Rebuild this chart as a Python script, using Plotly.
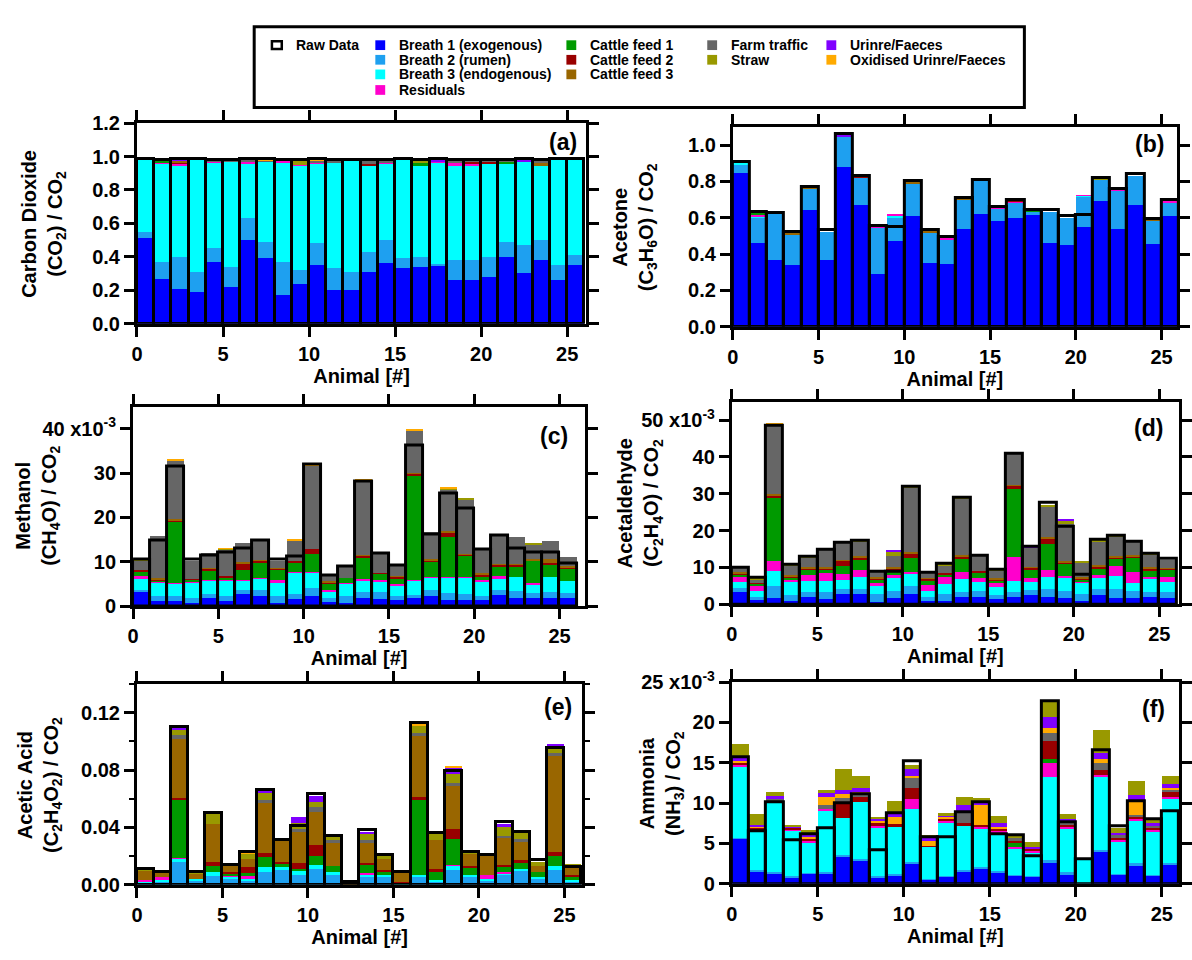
import plotly.graph_objects as go

W, H = 1192, 960

animals = list(range(1, 27))

names = ["Breath 1 (exogenous)", "Breath 2 (rumen)", "Breath 3 (endogenous)", "Residuals",
         "Cattle feed 1", "Cattle feed 2", "Cattle feed 3", "Farm traffic", "Straw",
         "Urinre/Faeces", "Oxidised Urinre/Faeces"]
colors = ["#0000ff", "#1ea0f0", "#00ffff", "#ff00cc", "#009a00", "#990000", "#996600",
          "#666666", "#999900", "#8000ff", "#ffaa00"]

# ---------------- (a) Carbon dioxide ----------------
A_B1 = [0.51, 0.265, 0.21, 0.19, 0.37, 0.22, 0.50, 0.39, 0.17, 0.24, 0.35, 0.20, 0.20, 0.31, 0.36, 0.33, 0.34, 0.35, 0.26, 0.26, 0.28, 0.40, 0.30, 0.38, 0.26, 0.35]
A_B2 = [0.04, 0.105, 0.19, 0.12, 0.08, 0.12, 0.13, 0.10, 0.20, 0.08, 0.13, 0.13, 0.11, 0.12, 0.14, 0.06, 0.06, 0.005, 0.12, 0.12, 0.12, 0.09, 0.17, 0.12, 0.09, 0.06]
A_B3 = [0.43, 0.585, 0.545, 0.67, 0.515, 0.63, 0.33, 0.48, 0.59, 0.625, 0.475, 0.635, 0.67, 0.515, 0.455, 0.59, 0.545, 0.61, 0.565, 0.565, 0.56, 0.47, 0.50, 0.445, 0.63, 0.57]
A_RES = [0, 0.01, 0.01, 0, 0.005, 0, 0.01, 0, 0.015, 0.005, 0.01, 0, 0, 0, 0.01, 0, 0, 0.005, 0.015, 0.01, 0, 0, 0, 0, 0, 0]
A_CF1 = [0, 0.01, 0, 0, 0, 0, 0, 0, 0, 0, 0, 0, 0, 0, 0, 0, 0.02, 0, 0, 0, 0, 0.01, 0, 0, 0, 0]
A_CF2 = [0, 0, 0.01, 0, 0, 0, 0, 0, 0, 0, 0, 0, 0, 0.01, 0, 0, 0, 0, 0, 0.01, 0.01, 0, 0, 0, 0, 0]
A_CF3 = [0, 0, 0.01, 0, 0, 0, 0, 0, 0, 0, 0, 0, 0, 0, 0, 0, 0, 0, 0, 0, 0, 0, 0, 0.02, 0, 0]
A_FARM = [0, 0, 0, 0, 0.01, 0.005, 0.01, 0.005, 0.005, 0, 0.01, 0.01, 0, 0.015, 0.01, 0, 0, 0, 0.015, 0.015, 0.01, 0.01, 0, 0.01, 0, 0]
A_STRAW = [0, 0, 0, 0, 0, 0, 0, 0, 0, 0.02, 0, 0, 0, 0, 0, 0, 0.01, 0, 0, 0, 0, 0, 0, 0, 0, 0]
A_URINE = [0, 0, 0.005, 0, 0, 0, 0.005, 0, 0, 0, 0, 0, 0, 0, 0, 0, 0, 0.005, 0, 0, 0, 0, 0.01, 0, 0, 0]
A_OXID = [0.005, 0, 0, 0.005, 0, 0, 0, 0.005, 0, 0, 0.005, 0, 0, 0, 0, 0.005, 0, 0, 0, 0, 0, 0, 0, 0, 0, 0]
A_RAW = [0.985, 0.98, 0.985, 0.985, 0.98, 0.98, 0.985, 0.985, 0.98, 0.98, 0.985, 0.98, 0.98, 0.98, 0.98, 0.985, 0.98, 0.985, 0.98, 0.98, 0.98, 0.98, 0.985, 0.98, 0.985, 0.985]

# ---------------- (b) Acetone ----------------
B_B1 = [0.848, 0.46, 0.37, 0.34, 0.645, 0.37, 0.88, 0.67, 0.29, 0.47, 0.61, 0.35, 0.345, 0.54, 0.62, 0.58, 0.60, 0.615, 0.46, 0.45, 0.55, 0.695, 0.54, 0.67, 0.455, 0.61]
B_B2 = [0.041, 0.14, 0.25, 0.17, 0.115, 0.15, 0.17, 0.15, 0.255, 0.13, 0.18, 0.17, 0.135, 0.16, 0.18, 0.07, 0.085, 0.02, 0.17, 0.15, 0.165, 0.115, 0.21, 0.16, 0.13, 0.075]
B_B3 = [0.014, 0.005, 0, 0, 0, 0, 0, 0, 0, 0.01, 0, 0, 0, 0, 0, 0, 0, 0, 0, 0, 0.005, 0, 0, 0, 0, 0]
B_RES = [0, 0.015, 0, 0, 0, 0, 0, 0, 0.005, 0.01, 0, 0, 0.005, 0, 0, 0.01, 0.005, 0, 0, 0, 0.005, 0, 0.005, 0, 0, 0.01]
B_CF1 = [0.004, 0.005, 0, 0, 0, 0, 0, 0, 0, 0, 0, 0, 0, 0, 0, 0, 0, 0.005, 0, 0, 0, 0, 0, 0, 0, 0]
B_CF2 = [0, 0, 0, 0, 0, 0, 0, 0.003, 0, 0, 0, 0, 0, 0, 0, 0, 0.005, 0, 0, 0, 0, 0, 0.005, 0, 0, 0.005]
B_CF3 = [0, 0, 0, 0.005, 0.005, 0, 0, 0, 0, 0, 0.003, 0.005, 0, 0.004, 0, 0, 0, 0, 0, 0, 0, 0, 0, 0, 0.005, 0]
B_FARM = [0, 0, 0, 0, 0, 0, 0, 0, 0, 0, 0, 0, 0, 0, 0, 0, 0, 0, 0, 0, 0, 0, 0, 0, 0, 0]
B_STRAW = [0, 0, 0, 0, 0, 0, 0, 0, 0, 0, 0, 0, 0, 0, 0, 0, 0, 0, 0, 0, 0, 0.005, 0, 0, 0, 0]
B_URINE = [0, 0, 0, 0, 0, 0, 0.01, 0, 0, 0, 0, 0, 0, 0, 0, 0, 0, 0, 0, 0, 0, 0.005, 0, 0, 0, 0]
B_OXID = [0, 0, 0, 0, 0, 0, 0, 0, 0, 0, 0, 0, 0, 0, 0, 0, 0, 0, 0, 0, 0, 0.005, 0, 0, 0, 0]
B_RAW = [0.907, 0.63, 0.625, 0.52, 0.77, 0.535, 1.06, 0.83, 0.555, 0.55, 0.80, 0.53, 0.495, 0.71, 0.81, 0.66, 0.70, 0.64, 0.64, 0.61, 0.615, 0.82, 0.76, 0.84, 0.595, 0.70]

# ---------------- (c) Methanol (x1e-3) ----------------
C_B1 = [3.3, 1.3, 1.3, 0.8, 2.0, 1.2, 2.8, 2.5, 0.8, 1.8, 2.5, 1.0, 0.8, 2.0, 1.8, 1.5, 2.0, 2.5, 1.5, 1.5, 1.5, 2.7, 2.0, 2.0, 2.0, 2.0]
C_B2 = [0.5, 1.2, 1.2, 1.2, 0.8, 1.3, 1.0, 1.3, 1.5, 1.0, 1.7, 0.9, 1.5, 1.2, 1.5, 1.0, 0.7, 1.3, 1.5, 1.3, 1.0, 1.0, 1.5, 1.0, 1.4, 1.0]
C_B3 = [2.5, 3.0, 2.8, 3.5, 3.0, 3.3, 2.0, 2.5, 3.0, 4.8, 3.4, 1.6, 3.0, 2.8, 2.3, 2.3, 3.2, 2.7, 3.5, 3.7, 3.0, 2.7, 3.2, 2.1, 3.3, 2.8]
C_RES = [0.5, 0.2, 0.1, 0.1, 0.1, 0.1, 0.2, 0.2, 0.7, 0.2, 0.2, 0.2, 0.1, 0.3, 0.3, 0.4, 0.1, 0.1, 0.1, 0.1, 0.6, 0.4, 0.0, 0.2, 0.0, 0.0]
C_CF1 = [1.2, 0.2, 13.8, 0.5, 2.3, 0.7, 2.3, 3.5, 2.3, 2.2, 4.1, 1.6, 1.0, 4.8, 1.5, 1.0, 23.5, 3.6, 9.0, 4.9, 0.8, 2.3, 2.4, 5.1, 2.7, 2.8]
C_CF2 = [0.3, 0.3, 0.3, 0.2, 0.3, 0.3, 1.5, 0.3, 0.3, 0.3, 1.2, 0.2, 0.0, 0.4, 0.2, 0.5, 0.5, 0.3, 1.2, 0.3, 0.3, 0.4, 0.4, 0.1, 0.4, 0.2]
C_CF3 = [0.0, 0.2, 0.2, 0.0, 0.2, 0.0, 0.2, 0.3, 0.2, 0.0, 0.0, 0.3, 0.0, 0.2, 0.0, 0.3, 0.2, 0.2, 0.2, 0.1, 0.3, 0.2, 0.2, 0.3, 1.0, 0.3]
C_FARM = [2.2, 9.6, 13.3, 4.0, 3.5, 6.0, 4.3, 4.2, 1.5, 4.7, 18.7, 1.6, 2.9, 16.7, 4.4, 2.2, 9.6, 6.2, 9.4, 12.2, 5.3, 6.3, 6.1, 3.3, 3.9, 2.1]
C_STRAW = [0.2, 0, 0, 0, 0, 0.1, 0, 0, 0, 0, 0, 0, 0, 0, 0, 0, 0, 0, 0.3, 0.3, 0, 0, 0, 0.1, 0, 0]
C_URINE = [0, 0, 0, 0, 0, 0, 0, 0, 0, 0, 0, 0, 0, 0, 0, 0, 0, 0, 0, 0, 0, 0, 0, 0, 0, 0]
C_OXID = [0, 0, 0.3, 0, 0, 0.2, 0, 0.2, 0, 0.3, 0.2, 0, 0, 0.4, 0, 0, 0.2, 0, 0.2, 0, 0, 0, 0, 0, 0, 0]
C_RAW = [10.5, 14.8, 31.5, 10.5, 11.5, 12.0, 13.0, 14.8, 10.5, 11.2, 32.0, 7.0, 9.0, 28.0, 11.8, 9.2, 36.3, 16.2, 25.3, 22.0, 12.8, 16.0, 13.0, 12.0, 12.0, 9.7]

# ---------------- (d) Acetaldehyde (x1e-3) ----------------
D_B1 = [3.5, 1.5, 1.8, 1.0, 2.0, 1.5, 3.0, 2.8, 0.7, 1.8, 3.0, 1.0, 1.0, 2.0, 2.0, 1.5, 2.0, 2.5, 2.0, 1.8, 1.0, 2.5, 1.8, 1.8, 2.0, 1.8]
D_B2 = [1.0, 0.5, 3.2, 1.5, 1.5, 2.0, 1.3, 1.5, 2.3, 2.0, 2.0, 1.0, 1.8, 1.5, 1.8, 1.0, 1.5, 1.5, 2.3, 2.0, 2.0, 1.8, 2.5, 2.0, 1.5, 1.5]
D_B3 = [1.5, 1.8, 4.0, 3.5, 3.0, 3.0, 2.3, 3.2, 2.0, 3.5, 3.5, 1.8, 2.7, 3.5, 2.3, 2.3, 3.0, 2.0, 3.2, 3.5, 3.0, 2.8, 3.5, 2.0, 3.5, 2.8]
D_RES = [1.5, 1.5, 2.7, 0.8, 1.5, 2.0, 1.8, 2.0, 0.8, 0.8, 0.3, 1.5, 2.0, 1.8, 1.2, 1.0, 6.5, 1.2, 1.8, 0.5, 0.3, 1.0, 2.8, 3.0, 0.5, 1.3]
D_CF1 = [0.7, 0.3, 17.3, 0.6, 1.5, 1.0, 2.0, 2.8, 1.0, 0.7, 3.8, 1.3, 0.6, 3.8, 1.5, 0.8, 18.5, 2.3, 7.2, 3.3, 0.5, 1.8, 1.8, 4.0, 1.8, 2.0]
D_CF2 = [0.3, 0.3, 0.5, 0.3, 0.4, 0.3, 1.5, 0.5, 0.3, 1.0, 1.3, 0.4, 0.4, 0.5, 0.3, 0.3, 0.7, 0.5, 1.5, 0.3, 0.3, 0.5, 0.5, 0.3, 0.5, 0.3]
D_CF3 = [0.3, 0, 0.5, 0.3, 0.3, 0.3, 0.3, 0.3, 0.3, 0.5, 0.5, 0.3, 0, 0.3, 0, 0.3, 0.3, 0.3, 0.3, 0.3, 0.5, 0.3, 0.3, 0.3, 0.3, 0.3]
D_FARM = [1.2, 0.8, 18.9, 2.7, 2.6, 4.8, 4.6, 4.0, 1.5, 2.8, 17.4, 1.2, 2.0, 15.4, 4.0, 2.0, 8.5, 5.3, 8.2, 10.3, 3.7, 6.3, 5.2, 3.5, 3.5, 2.2]
D_STRAW = [0.2, 0.3, 0, 0.3, 0.2, 0.3, 0, 0.3, 0.3, 1.2, 0.3, 0, 0.3, 0.3, 0, 0.3, 0, 0, 0.5, 0.8, 0.5, 0.3, 0.3, 0, 0.3, 0]
D_URINE = [0, 0, 0, 0.2, 0, 0, 0, 0, 0, 0.5, 0, 0, 0, 0, 0, 0, 0, 0.5, 0, 0.3, 0, 0, 0, 0, 0, 0]
D_OXID = [0.2, 0, 0.2, 0, 0, 0, 0.2, 0, 0, 0, 0, 0, 0, 0, 0, 0, 0.3, 0, 0, 0, 0, 0, 0, 0, 0, 0]
D_RAW = [10.0, 7.2, 48.5, 10.8, 12.8, 14.8, 16.8, 17.2, 8.8, 8.8, 32.0, 8.7, 11.0, 29.0, 13.2, 9.5, 41.0, 15.5, 27.5, 21.0, 8.0, 17.5, 18.7, 17.0, 13.8, 12.3]

# ---------------- (e) Acetic acid ----------------
E_B1 = [0, 0, 0, 0, 0, 0, 0, 0, 0, 0, 0, 0, 0, 0, 0, 0, 0, 0, 0, 0, 0, 0, 0, 0, 0, 0]
E_B2 = [0.001, 0.002, 0.016, 0.003, 0.006, 0.004, 0.003, 0.009, 0.010, 0.007, 0.011, 0.007, 0, 0.006, 0.005, 0, 0.005, 0.002, 0.010, 0.005, 0.003, 0.007, 0.010, 0.004, 0.010, 0.002]
E_B3 = [0.001, 0.001, 0.002, 0.001, 0.003, 0.002, 0.001, 0.003, 0.002, 0.003, 0.003, 0.002, 0, 0.001, 0.002, 0.001, 0.002, 0.001, 0.003, 0.002, 0.001, 0.001, 0.001, 0.001, 0.003, 0.001]
E_RES = [0.001, 0.002, 0.0005, 0, 0, 0.0005, 0.002, 0, 0, 0, 0, 0, 0, 0.001, 0, 0, 0, 0, 0.001, 0, 0.003, 0.001, 0, 0, 0, 0]
E_CF1 = [0, 0, 0.041, 0, 0.004, 0.001, 0.002, 0.007, 0.003, 0.001, 0.006, 0.004, 0, 0.006, 0.002, 0, 0.052, 0.006, 0.018, 0.005, 0, 0.003, 0.004, 0.004, 0.007, 0.003]
E_CF2 = [0, 0, 0.001, 0, 0.003, 0.001, 0.004, 0.003, 0.001, 0.004, 0.008, 0, 0, 0.001, 0.001, 0.001, 0.002, 0.002, 0.007, 0.001, 0, 0.002, 0.002, 0, 0.003, 0.001]
E_CF3 = [0.007, 0.004, 0.041, 0.004, 0.026, 0.006, 0.006, 0.035, 0.015, 0.022, 0.023, 0.016, 0.002, 0.014, 0.008, 0.006, 0.043, 0.020, 0.030, 0.009, 0.013, 0.019, 0.013, 0.004, 0.067, 0.006]
E_FARM = [0, 0, 0.003, 0, 0, 0, 0, 0.002, 0, 0.002, 0.003, 0.002, 0, 0.002, 0, 0, 0.002, 0, 0.002, 0, 0, 0.001, 0.002, 0, 0.002, 0]
E_STRAW = [0.001, 0.001, 0.004, 0.001, 0.008, 0, 0.004, 0.005, 0, 0.004, 0.004, 0.002, 0, 0.004, 0.002, 0, 0.005, 0.006, 0.006, 0.001, 0, 0.006, 0.005, 0.003, 0.004, 0.001]
E_URINE = [0, 0, 0.001, 0, 0, 0, 0, 0.002, 0, 0.004, 0.004, 0, 0, 0.002, 0, 0, 0, 0, 0.005, 0.001, 0, 0.002, 0, 0, 0.002, 0]
E_OXID = [0.001, 0, 0.0005, 0, 0, 0, 0.001, 0.001, 0, 0, 0, 0, 0, 0, 0, 0, 0.001, 0, 0.001, 0, 0, 0, 0, 0, 0, 0]
E_RAW = [0.011, 0.009, 0.110, 0.009, 0.050, 0.014, 0.023, 0.066, 0.031, 0.041, 0.063, 0.034, 0.002, 0.038, 0.021, 0.009, 0.113, 0.036, 0.079, 0.023, 0.021, 0.044, 0.037, 0.017, 0.095, 0.012]

# ---------------- (f) Ammonia (x1e-3) ----------------
F_B1 = [5.6, 1.5, 1.3, 0.8, 1.2, 1.2, 3.4, 2.9, 0.8, 1.0, 2.4, 0.5, 0.9, 1.5, 1.9, 1.4, 1.0, 0.9, 2.6, 1.1, 0.0, 3.9, 1.1, 2.3, 1.0, 2.4]
F_B2 = [0.1, 0.2, 0.2, 0.1, 0.1, 0.2, 0.2, 0.2, 0.2, 0.2, 0.3, 0.1, 0.1, 0.2, 0.1, 0.2, 0.1, 0.1, 0.3, 0.3, 0.1, 0.3, 0.1, 0.2, 0.1, 0.2]
F_B3 = [8.7, 4.8, 8.5, 5.7, 3.8, 7.7, 4.5, 7.0, 6.0, 5.8, 6.5, 4.0, 6.6, 5.5, 4.8, 4.6, 3.3, 2.8, 10.3, 5.4, 2.8, 9.0, 4.0, 5.3, 5.4, 7.9]
F_RES = [0.3, 0.2, 0, 0.1, 0.2, 0.2, 0, 0, 0.2, 0, 1.3, 0, 0.2, 0, 0.2, 0.3, 0.2, 0.3, 1.8, 0.2, 0, 0.3, 0.2, 0.2, 0.2, 0.3]
F_CF1 = [0, 0, 0, 0, 0, 0, 0, 0, 0, 0, 0, 0, 0, 0, 0, 0, 0.4, 0, 0.4, 0, 0, 0, 0, 0, 0, 0]
F_CF2 = [0.3, 0.2, 0.3, 0.2, 0.2, 0, 1.8, 0.6, 0.3, 0.4, 1.4, 0.1, 0.3, 0.3, 0.3, 0.3, 0.3, 0.2, 2.3, 0.3, 0, 0.6, 0.3, 0.3, 0.3, 0.6]
F_CF3 = [0, 0, 0, 0, 0, 0, 0, 0, 0, 0, 0, 0, 0, 0, 0, 0, 0, 0, 0, 0, 0, 0, 0, 0, 0, 0]
F_FARM = [0, 0, 0.2, 0, 0, 0.5, 0.7, 0.3, 0, 0, 1.2, 0, 0, 1.3, 0, 0, 0.3, 0, 1.0, 0.3, 0, 0.8, 0.3, 0.2, 0.2, 0.3]
F_STRAW = [1.7, 1.3, 0.5, 0.2, 0.6, 0.4, 2.6, 1.5, 0.2, 1.6, 0.5, 0.4, 0.2, 1.0, 0.6, 0.9, 0.6, 0.6, 2.0, 0.6, 0, 2.8, 0.6, 1.7, 0.4, 1.1]
F_URINE = [0.4, 0.3, 0.4, 0.2, 0.2, 0.5, 0.5, 0.6, 0.3, 0.5, 0.8, 0.2, 0.2, 0.7, 0.3, 0.5, 0, 0.3, 1.4, 0.4, 0, 0.8, 0.3, 0.6, 0.3, 0.4]
F_OXID = [0.2, 0.1, 0, 0, 0.3, 0.9, 0.5, 0.3, 0.3, 0.8, 0.3, 0.7, 0.2, 0.2, 2.4, 0.2, 0, 0, 0.6, 0, 0, 0.5, 0, 1.9, 0, 0.2]
F_RAW = [15.7, 6.5, 10.1, 5.4, 6.2, 6.9, 10.0, 11.1, 4.2, 8.8, 15.2, 5.8, 5.8, 8.9, 10.1, 6.2, 6.0, 3.4, 22.7, 7.7, 3.1, 16.6, 7.1, 10.3, 8.0, 9.0]

# y tick labels
A_TICKS = [0, 0.2, 0.4, 0.6, 0.8, 1.0, 1.2]
A_TICKTEXT = ["0.0", "0.2", "0.4", "0.6", "0.8", "1.0", "1.2"]
B_TICKS = [0, 0.2, 0.4, 0.6, 0.8, 1.0]
B_TICKTEXT = ["0.0", "0.2", "0.4", "0.6", "0.8", "1.0"]
C_TICKS = [0, 10, 20, 30, 40]
C_TICKTEXT = ["0", "10", "20", "30", "40 x10<sup>-3</sup>"]
D_TICKS = [0, 10, 20, 30, 40, 50]
D_TICKTEXT = ["0", "10", "20", "30", "40", "50 x10<sup>-3</sup>"]
E_TICKS = [0, 0.04, 0.08, 0.12]
E_TICKTEXT = ["0.00", "0.04", "0.08", "0.12"]
F_TICKS = [0, 5, 10, 15, 20, 25]
F_TICKTEXT = ["0", "5", "10", "15", "20", "25 x10<sup>-3</sup>"]
X_TICKS = [0, 5, 10, 15, 20, 25]

ORDER_STD = [0, 1, 2, 3, 4, 5, 6, 7, 8, 9, 10]
ORDER_F = [0, 1, 2, 3, 4, 5, 6, 7, 10, 9, 8]

panels = [
    dict(label="(a)", comps=[A_B1, A_B2, A_B3, A_RES, A_CF1, A_CF2, A_CF3, A_FARM, A_STRAW, A_URINE, A_OXID],
         raw=A_RAW, order=ORDER_STD, box=(133, 589, 112, 318), xmax=26.1, ymax=1.2,
         yt=A_TICKS, ytt=A_TICKTEXT, minor=None,
         title="Carbon Dioxide<br>(CO<sub>2</sub>) / CO<sub>2</sub>", tx=38, lab=(582, 131)),
    dict(label="(b)", comps=[B_B1, B_B2, B_B3, B_RES, B_CF1, B_CF2, B_CF3, B_FARM, B_STRAW, B_URINE, B_OXID],
         raw=B_RAW, order=ORDER_STD, box=(738, 1189, 116, 321), xmax=25.9, ymax=1.1,
         yt=B_TICKS, ytt=B_TICKTEXT, minor=None,
         title="Acetone<br>(C<sub>3</sub>H<sub>6</sub>O) / CO<sub>2</sub>", tx=638, lab=(1178, 133)),
    dict(label="(c)", comps=[C_B1, C_B2, C_B3, C_RES, C_CF1, C_CF2, C_CF3, C_FARM, C_STRAW, C_URINE, C_OXID],
         raw=C_RAW, order=ORDER_STD, box=(129, 588, 403, 608), xmax=26.5, ymax=45,
         yt=C_TICKS, ytt=C_TICKTEXT, minor=None,
         title="Methanol<br>(CH<sub>4</sub>O) / CO<sub>2</sub>", tx=32, lab=(573, 433)),
    dict(label="(d)", comps=[D_B1, D_B2, D_B3, D_RES, D_CF1, D_CF2, D_CF3, D_FARM, D_STRAW, D_URINE, D_OXID],
         raw=D_RAW, order=ORDER_STD, box=(737, 1191, 398, 606), xmax=26.15, ymax=55,
         yt=D_TICKS, ytt=D_TICKTEXT, minor=None,
         title="Acetaldehyde<br>(C<sub>2</sub>H<sub>4</sub>O) / CO<sub>2</sub>", tx=644, lab=(1177, 425)),
    dict(label="(e)", comps=[E_B1, E_B2, E_B3, E_RES, E_CF1, E_CF2, E_CF3, E_FARM, E_STRAW, E_URINE, E_OXID],
         raw=E_RAW, order=ORDER_STD, box=(133, 585, 688, 894), xmax=26.04, ymax=0.14,
         yt=E_TICKS, ytt=E_TICKTEXT, minor=0.02,
         title="Acetic Acid<br>(C<sub>2</sub>H<sub>4</sub>O<sub>2</sub>) / CO<sub>2</sub>", tx=34, lab=(577, 712)),
    dict(label="(f)", comps=[F_B1, F_B2, F_B3, F_RES, F_CF1, F_CF2, F_CF3, F_FARM, F_STRAW, F_URINE, F_OXID],
         raw=F_RAW, order=ORDER_F, box=(737, 1191, 686, 893), xmax=26.0, ymax=25,
         yt=F_TICKS, ytt=F_TICKTEXT, minor=None,
         title="Ammonia<br>(NH<sub>3</sub>) / CO<sub>2</sub>", tx=666, lab=(1179, 714)),
]


def PX(p):
    return p / W


def PY(p):
    return 1 - p / H


FONT = "Arial, Liberation Sans, sans-serif"
FS = 20
tickfont = dict(family=FONT, size=FS, color="black", weight="bold")

fig = go.Figure()
layout = dict(
    width=W, height=H, margin=dict(l=0, r=0, t=0, b=0),
    paper_bgcolor="white", plot_bgcolor="white",
    barmode="overlay", showlegend=False, bargap=0,
    font=dict(family=FONT, color="black"),
)
annotations = []
shapes = []

xs = [a - 0.5 for a in animals]

for i, p in enumerate(panels):
    n = i + 1
    xa = "x" if n == 1 else f"x{n}"
    ya = "y" if n == 1 else f"y{n}"
    cum = [0.0] * len(animals)
    for ci in p["order"]:
        vals = p["comps"][ci]
        fig.add_trace(go.Bar(x=xs, y=vals, base=list(cum), width=1, name=names[ci],
                             marker=dict(color=colors[ci], line=dict(width=0)),
                             opacity=1, xaxis=xa, yaxis=ya, showlegend=False))
        cum = [c + v for c, v in zip(cum, vals)]
    fig.add_trace(go.Bar(x=xs, y=p["raw"], base=0, width=1, name="Raw Data",
                         marker=dict(color="rgba(0,0,0,0)", line=dict(color="black", width=3)),
                         opacity=1, xaxis=xa, yaxis=ya, showlegend=False))

    x0, x1, ytop, ybot = p["box"]
    common = dict(showline=True, linecolor="black", linewidth=3, mirror="allticks",
                  ticks="outside", ticklen=10, tickwidth=3, tickcolor="black",
                  showgrid=False, zeroline=False, tickfont=tickfont)
    xkey = "xaxis" if n == 1 else f"xaxis{n}"
    ykey = "yaxis" if n == 1 else f"yaxis{n}"
    layout[xkey] = dict(domain=[PX(x0), PX(x1)], range=[0, p["xmax"]], anchor=ya,
                        tickvals=X_TICKS, ticktext=[str(t) for t in X_TICKS],
                        title=dict(text="Animal [#]", standoff=2,
                                   font=dict(family=FONT, size=FS, color="black", weight="bold")),
                        **common)
    ydict = dict(domain=[PY(ybot), PY(ytop)], range=[0, p["ymax"]], anchor=xa,
                 tickvals=p["yt"], ticktext=p["ytt"], **common)
    if p["minor"]:
        ydict["minor"] = dict(dtick=p["minor"], ticks="outside", ticklen=5, tickwidth=2, tickcolor="black")
    layout[ykey] = ydict

    annotations.append(dict(text=p["title"], xref="paper", yref="paper",
                            x=PX(p["tx"]), y=PY((ytop + ybot) / 2), xanchor="center", yanchor="middle",
                            textangle=-90, showarrow=False,
                            font=dict(family=FONT, size=FS, color="black", weight="bold")))
    annotations.append(dict(text=p["label"], xref="paper", yref="paper",
                            x=PX(p["lab"][0]), y=PY(p["lab"][1]), xanchor="right", yanchor="middle",
                            showarrow=False, font=dict(family=FONT, size=23, color="black", weight="bold")))

# ---------------- legend (drawn manually) ----------------
leg_cols = [["Raw Data"], names[0:4], names[4:7], names[7:9], names[9:11]]
leg_col_x = [292, 397, 591, 734, 855]
leg_row_y = [32, 47, 62, 78]
shapes.append(dict(type="rect", xref="paper", yref="paper", x0=PX(252), x1=PX(1034), y0=PY(96), y1=PY(13),
                   line=dict(color="black", width=3), fillcolor="rgba(0,0,0,0)"))
for cx, col in zip(leg_col_x, leg_cols):
    for r, nm in enumerate(col):
        yy = leg_row_y[r]
        sx = cx - 17
        if nm == "Raw Data":
            shapes.append(dict(type="rect", xref="paper", yref="paper",
                               x0=PX(sx - 5), x1=PX(sx + 5), y0=PY(yy + 4), y1=PY(yy - 4),
                               line=dict(color="black", width=2.5), fillcolor="white"))
        else:
            shapes.append(dict(type="rect", xref="paper", yref="paper",
                               x0=PX(sx - 5), x1=PX(sx + 5), y0=PY(yy + 5), y1=PY(yy - 5),
                               line=dict(width=0), fillcolor=colors[names.index(nm)]))
        annotations.append(dict(text=nm, xref="paper", yref="paper", x=PX(cx), y=PY(yy),
                                xanchor="left", yanchor="middle", showarrow=False,
                                font=dict(family=FONT, size=14, color="black", weight="bold")))

layout["annotations"] = annotations
layout["shapes"] = shapes
fig.update_layout(**layout)

fig.write_html("out.html", config={"displayModeBar": False},
               post_script="document.body.style.margin='0';")
